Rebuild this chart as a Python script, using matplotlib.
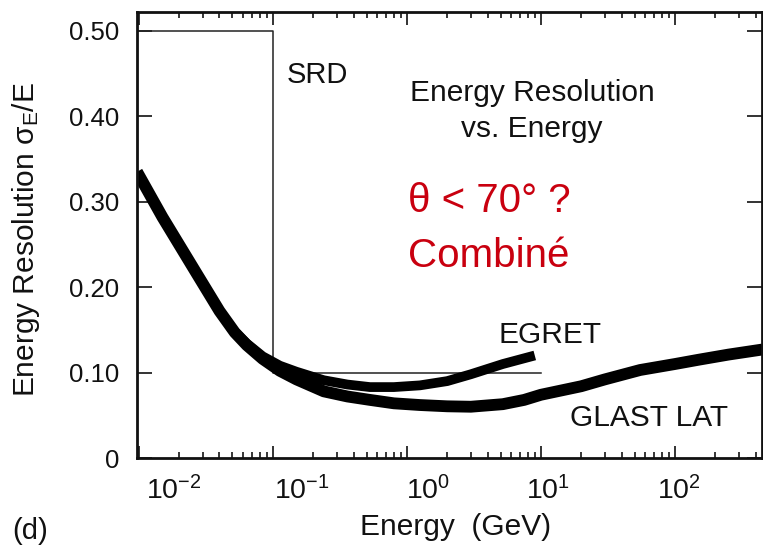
import matplotlib
matplotlib.use("Agg")
import matplotlib.pyplot as plt
import numpy as np

plt.rcParams['font.family'] = ['Liberation Sans', 'DejaVu Sans']
plt.rcParams['mathtext.fontset'] = 'custom'
plt.rcParams['mathtext.rm'] = 'Liberation Sans'
plt.rcParams['mathtext.it'] = 'Liberation Sans:italic'
plt.rcParams['mathtext.sf'] = 'Liberation Sans'
plt.rcParams['mathtext.default'] = 'regular'

# data
glast_e = [0.0097, 0.015, 0.027, 0.040, 0.052, 0.064, 0.084, 0.113, 0.15, 0.24, 0.36, 0.53,
           0.8, 1.25, 2.0, 3.0, 5.2, 7.5, 10, 20, 30, 55, 100, 150, 250, 450]
glast_res = [0.335, 0.282, 0.216, 0.172, 0.147, 0.132, 0.116, 0.102, 0.092, 0.078, 0.072, 0.068,
             0.064, 0.062, 0.0605, 0.060, 0.063, 0.068, 0.074, 0.084, 0.092, 0.103, 0.110, 0.115, 0.121, 0.127]

egret_e = [0.048, 0.064, 0.084, 0.113, 0.15, 0.24, 0.36, 0.53, 0.8, 1.25, 2.0, 3.0, 5.2, 9.0]
egret_res = [0.153, 0.134, 0.119, 0.108, 0.101, 0.091, 0.086, 0.083, 0.083, 0.085, 0.090, 0.098, 0.110, 0.120]

srd_e = [0.0097, 0.1, 0.1, 10]
srd_res = [0.5, 0.5, 0.1, 0.1]

yticks = [0, 0.10, 0.20, 0.30, 0.40, 0.50]
ytick_labels = ["0", "0.10", "0.20", "0.30", "0.40", "0.50"]
xdecades = [0.01, 0.1, 1, 10, 100]
# the printed labels sit a bit right of their ticks in the original
xlabel_pos = [0.0182, 0.164, 1.44, 11.3, 107]
xlabel_txt = [r"$10^{-2}$", r"$10^{-1}$", r"$10^{0}$", r"$10^{1}$", r"$10^{2}$"]

fig = plt.figure(figsize=(7.63, 5.46), dpi=100)
ax = fig.add_axes([137/763, 88/546, 625/763, 446/546])

ax.plot(srd_e, srd_res, color="#222222", linewidth=1.1)
ax.plot(glast_e, glast_res, color="black", linewidth=8.5, solid_capstyle="butt", solid_joinstyle="round")
ax.plot(egret_e, egret_res, color="black", linewidth=7, solid_capstyle="butt", solid_joinstyle="round")

ax.set_xscale("log")
ax.set_xlim(0.0097, 446)
ax.set_ylim(0, 0.522)

ax.set_yticks(yticks)
ax.set_yticklabels(ytick_labels, fontsize=18.5)
ax.set_xticks(xdecades)
ax.xaxis.set_minor_locator(matplotlib.ticker.LogLocator(base=10, subs=np.arange(2, 10)))
ax.xaxis.set_minor_formatter(matplotlib.ticker.NullFormatter())
ax.set_xticklabels([])
ax.tick_params(axis="both", which="major", direction="in", top=True, right=True, width=1.2, color="#111111")
ax.tick_params(axis="y", which="major", length=11, pad=13, labelcolor="#111111")
ax.tick_params(axis="x", which="major", length=9)
ax.tick_params(axis="x", which="minor", direction="in", top=True, length=4.5, width=1.1)
for s in ax.spines.values():
    s.set_linewidth(2)
    s.set_color("#111111")

for pos, txt in zip(xlabel_pos, xlabel_txt):
    ax.text(pos, -0.093, txt, transform=ax.get_xaxis_transform(), ha="center", va="baseline",
            fontsize=20.5, color="#111111")

ax.set_xlabel("Energy  (GeV)", fontsize=21.5, color="#111111")
ax.xaxis.set_label_coords(0.51, -0.123)
ax.set_ylabel(r"Energy Resolution σ$_E$/E", fontsize=21.5, color="#111111")
ax.yaxis.set_label_coords(-0.152, 0.49)

# annotations
ax.text(0.24, 0.841, "SRD", transform=ax.transAxes, fontsize=21, va="baseline", color="#111111")
ax.text(0.632, 0.800, "Energy Resolution", transform=ax.transAxes, fontsize=21.5, ha="center", va="baseline", color="#111111")
ax.text(0.632, 0.720, "vs. Energy", transform=ax.transAxes, fontsize=21.5, ha="center", va="baseline", color="#111111")
ax.text(0.578, 0.258, "EGRET", transform=ax.transAxes, fontsize=21.5, va="baseline", color="#111111")
ax.text(0.693, 0.072, "GLAST LAT", transform=ax.transAxes, fontsize=21.5, va="baseline", color="#111111")

red = "#C9000F"
ax.text(0.4336, 0.5516, "θ < 70° ?", transform=ax.transAxes, fontsize=29, va="baseline", color=red)
ax.text(0.4336, 0.428, "Combiné", transform=ax.transAxes, fontsize=29, va="baseline", color=red)

fig.text(12/763, 1 - 539/546, "(d)", fontsize=21, color="#111111", va="baseline")

fig.savefig("out.png", dpi=100)
